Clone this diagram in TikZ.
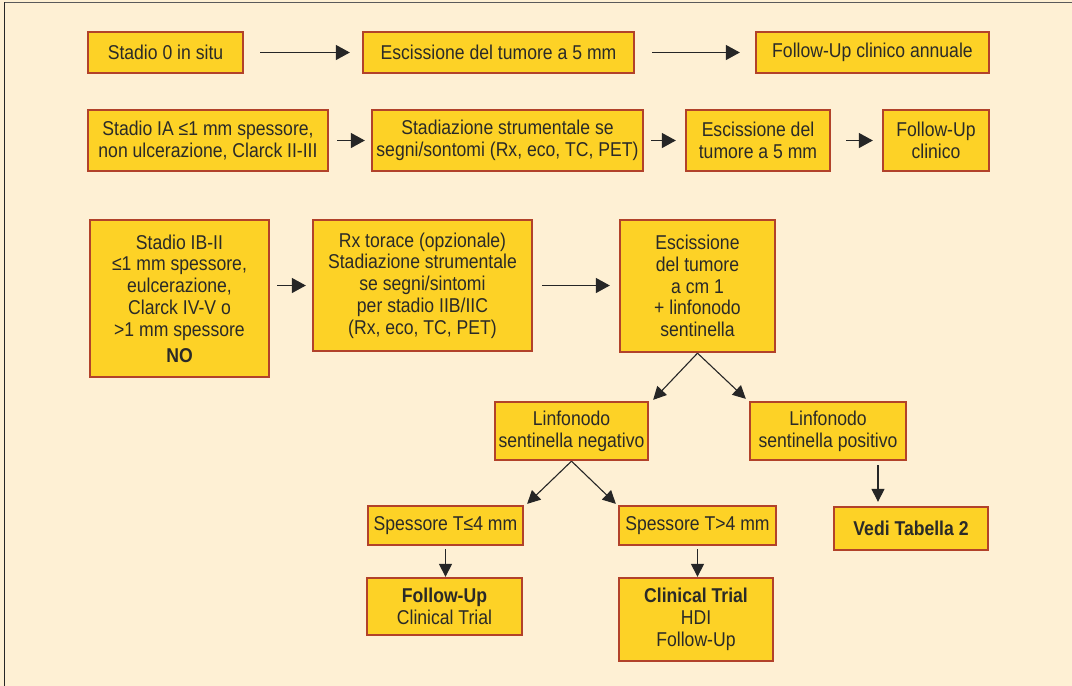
\documentclass[tikz,border=0pt]{standalone}
\usepackage{fontspec}
\setmainfont{Liberation Sans}[FakeStretch=0.88]
\usetikzlibrary{arrows.meta}

\definecolor{pagebg}{RGB}{254,240,212}
\definecolor{boxfill}{RGB}{253,210,38}
\definecolor{boxline}{RGB}{178,66,42}
\definecolor{inktext}{RGB}{42,42,40}
\definecolor{inkline}{RGB}{38,38,38}
\definecolor{framegray}{RGB}{90,90,90}

\begin{document}
\begin{tikzpicture}[x=1pt,y=-1pt,
  box/.style={draw=boxline, line width=2.3pt, fill=boxfill, inner sep=0pt,
    align=center, text=inktext,
    font=\fontsize{20}{21.8}\selectfont},
  flow/.style={draw=inkline, line width=1.2pt,
    -{Triangle[length=14pt,width=15pt]}},
  branch/.style={draw=inkline, line width=1.1pt,
    -{Triangle[length=13pt,width=13pt]}}
]
% page and frame
\useasboundingbox (0,0) rectangle (1072,686);
\fill[pagebg] (0,0) rectangle (1072,686);
\draw[framegray, line width=1pt] (4,2) -- (1072,2);
\draw[inkline, line width=1.6pt] (4.5,2) -- (4.5,686);

% row 1: stadio 0
\node[box, minimum width=155pt, minimum height=41pt] (s0) at (165.5,52.5) {Stadio 0 in situ};
\node[box, minimum width=271pt, minimum height=41pt] (s0exc) at (498.5,52.5) {Escissione del tumore a 5 mm};
\node[box, minimum width=233pt, minimum height=41pt] (s0fu) at (872.5,52.5) {Follow-Up clinico annuale};

% row 2: stadio IA
\node[box, minimum width=240pt, minimum height=61pt] (sia) at (208,140.5) {Stadio IA ≤1 mm spessore,\\non ulcerazione, Clarck II-III};
\node[box, minimum width=271pt, minimum height=61pt] (siastr) at (507.5,140.5) {Stadiazione strumentale se\\segni/sontomi (Rx, eco, TC, PET)};
\node[box, minimum width=144pt, minimum height=61pt] (siaexc) at (758,140.5) {Escissione del\\tumore a 5 mm};
\node[box, minimum width=106pt, minimum height=61pt] (siafu) at (936,140.5) {Follow-Up\\clinico};

% row 3: stadio IB-II
\node[box, minimum width=179pt, minimum height=157pt] (sib) at (179.5,298.5) {Stadio IB-II\\≤1 mm spessore,\\eulcerazione,\\Clarck IV-V o\\>1 mm spessore\\[4pt]\textbf{NO}};
\node[box, minimum width=219pt, minimum height=131pt] (sibstr) at (422.5,285.5) {Rx torace (opzionale)\\Stadiazione strumentale\\se segni/sintomi\\per stadio IIB/IIC\\(Rx, eco, TC, PET)};
\node[box, minimum width=155pt, minimum height=132pt] (sibexc) at (697.5,286) {Escissione\\del tumore\\a cm 1\\+ linfonodo\\sentinella};

% sentinel node outcome
\node[box, minimum width=153pt, minimum height=58pt] (neg) at (571.5,431) {Linfonodo\\sentinella negativo};
\node[box, minimum width=156pt, minimum height=58pt] (pos) at (828,431) {Linfonodo\\sentinella positivo};

% thickness split
\node[box, minimum width=155pt, minimum height=39pt] (thin) at (445.5,525.5) {Spessore T≤4 mm};
\node[box, minimum width=157pt, minimum height=39pt] (thick) at (697.5,525.5) {Spessore T>4 mm};
\node[box, minimum width=155pt, minimum height=57pt] (thinfu) at (444.5,606.5) {\textbf{Follow-Up}\\Clinical Trial};
\node[box, minimum width=154pt, minimum height=83pt] (thicktr) at (696,619.5) {\textbf{Clinical Trial}\\HDI\\Follow-Up};
\node[box, minimum width=154pt, minimum height=43pt] (tab) at (911,528.5) {\textbf{Vedi Tabella 2}};

% horizontal connectors
\draw[flow, shorten <=16pt, shorten >=12pt] (s0) -- (s0exc);
\draw[flow, shorten <=17pt, shorten >=15pt] (s0exc) -- (s0fu);
\draw[flow, shorten <=8pt, shorten >=6pt] (sia) -- (siastr);
\draw[flow, shorten <=7pt, shorten >=9pt] (siastr) -- (siaexc);
\draw[flow, shorten <=15pt, shorten >=9pt] (siaexc) -- (siafu);
\draw[flow, shorten <=7pt, shorten >=6pt] (sib.east |- sibstr.west) -- (sibstr.west);
\draw[flow, shorten <=9pt, shorten >=9pt] (sibstr) -- (sibexc.west |- sibstr.east);

% branching connectors
\draw[branch] (sibexc.south) -- ([xshift=4pt,yshift=1pt]neg.north east);
\draw[branch] (sibexc.south) -- ([xshift=-3pt,yshift=2pt]pos.north west);
\draw[branch] (neg.south) -- ([xshift=3pt,yshift=1pt]thin.north east);
\draw[branch] (neg.south) -- ([xshift=-2pt,yshift=1pt]thick.north west);

% vertical connectors
\draw[branch, shorten <=3pt] (thin.south) -- (thin.south |- thinfu.north);
\draw[branch, shorten <=3pt] (thick.south) -- (thick.south |- thicktr.north);
\coordinate (posdrop) at ([xshift=50pt]pos.south);
\draw[branch, shorten <=4pt, shorten >=4pt] (posdrop) -- (posdrop |- tab.north);
\end{tikzpicture}
\end{document}
